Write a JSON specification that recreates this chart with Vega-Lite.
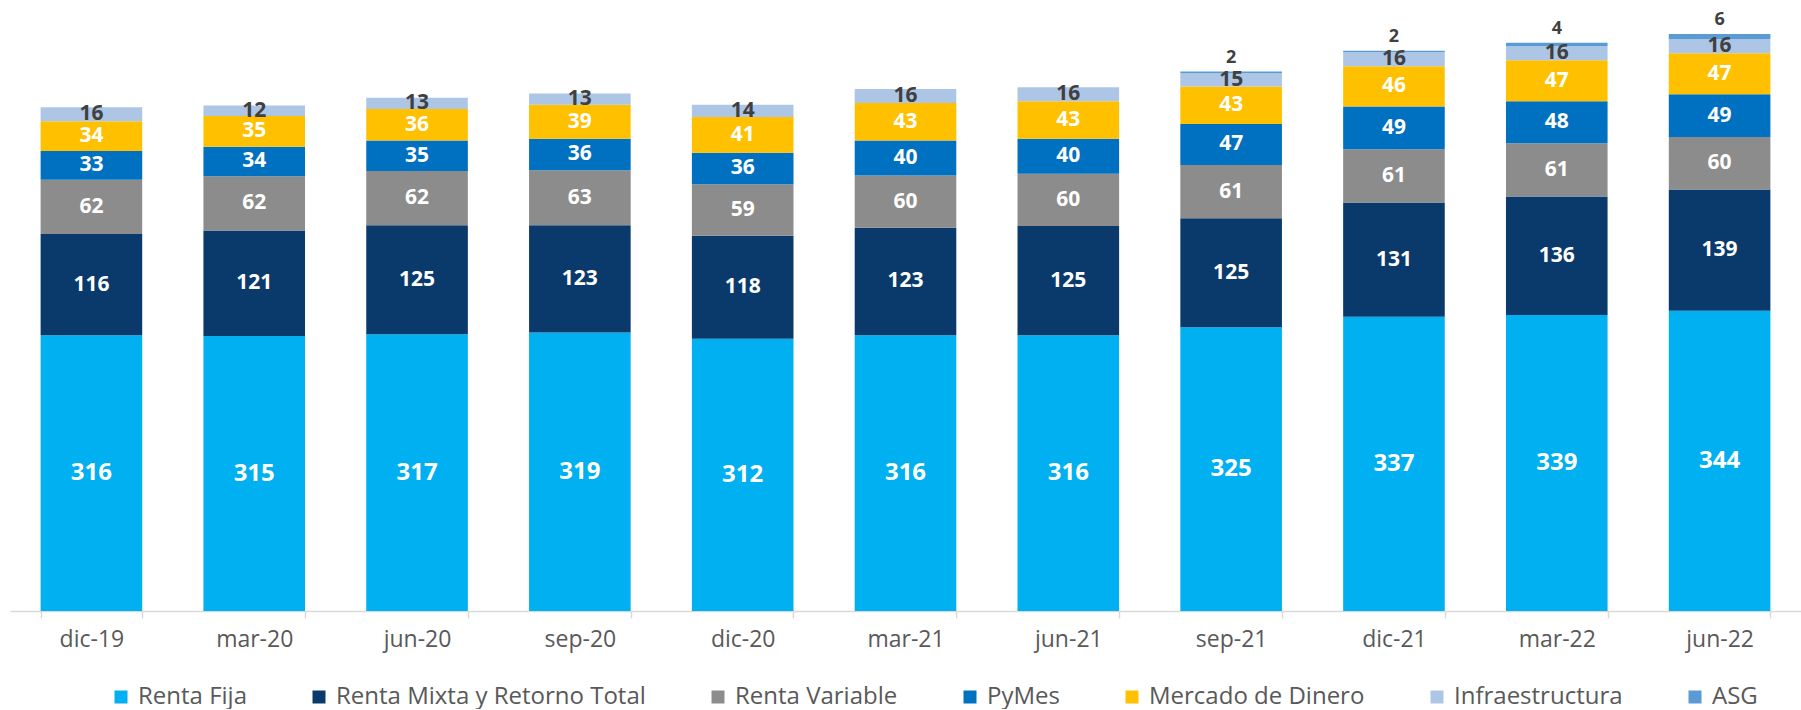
{
  "$schema": "https://vega.github.io/schema/vega-lite/v6.json",
  "width": 1791,
  "height": 611,
  "padding": {"left": 10, "right": 0, "top": 0, "bottom": 0},
  "background": "white",
  "config": {"view": {"stroke": null}},
  "data": {"values": [
    {"cat": "dic-19", "Renta Fija": 316, "Renta Mixta y Retorno Total": 116, "Renta Variable": 62, "PyMes": 33, "Mercado de Dinero": 34, "Infraestructura": 16, "ASG": null},
    {"cat": "mar-20", "Renta Fija": 315, "Renta Mixta y Retorno Total": 121, "Renta Variable": 62, "PyMes": 34, "Mercado de Dinero": 35, "Infraestructura": 12, "ASG": null},
    {"cat": "jun-20", "Renta Fija": 317, "Renta Mixta y Retorno Total": 125, "Renta Variable": 62, "PyMes": 35, "Mercado de Dinero": 36, "Infraestructura": 13, "ASG": null},
    {"cat": "sep-20", "Renta Fija": 319, "Renta Mixta y Retorno Total": 123, "Renta Variable": 63, "PyMes": 36, "Mercado de Dinero": 39, "Infraestructura": 13, "ASG": null},
    {"cat": "dic-20", "Renta Fija": 312, "Renta Mixta y Retorno Total": 118, "Renta Variable": 59, "PyMes": 36, "Mercado de Dinero": 41, "Infraestructura": 14, "ASG": null},
    {"cat": "mar-21", "Renta Fija": 316, "Renta Mixta y Retorno Total": 123, "Renta Variable": 60, "PyMes": 40, "Mercado de Dinero": 43, "Infraestructura": 16, "ASG": null},
    {"cat": "jun-21", "Renta Fija": 316, "Renta Mixta y Retorno Total": 125, "Renta Variable": 60, "PyMes": 40, "Mercado de Dinero": 43, "Infraestructura": 16, "ASG": null},
    {"cat": "sep-21", "Renta Fija": 325, "Renta Mixta y Retorno Total": 125, "Renta Variable": 61, "PyMes": 47, "Mercado de Dinero": 43, "Infraestructura": 15, "ASG": 2},
    {"cat": "dic-21", "Renta Fija": 337, "Renta Mixta y Retorno Total": 131, "Renta Variable": 61, "PyMes": 49, "Mercado de Dinero": 46, "Infraestructura": 16, "ASG": 2},
    {"cat": "mar-22", "Renta Fija": 339, "Renta Mixta y Retorno Total": 136, "Renta Variable": 61, "PyMes": 48, "Mercado de Dinero": 47, "Infraestructura": 16, "ASG": 4},
    {"cat": "jun-22", "Renta Fija": 344, "Renta Mixta y Retorno Total": 139, "Renta Variable": 60, "PyMes": 49, "Mercado de Dinero": 47, "Infraestructura": 16, "ASG": 6}
  ]},
  "transform": [
    {"fold": ["Renta Fija", "Renta Mixta y Retorno Total", "Renta Variable", "PyMes", "Mercado de Dinero", "Infraestructura", "ASG"], "as": ["serie", "value"]},
    {"filter": "isValid(datum.value)"},
    {"calculate": "indexof(['Renta Fija','Renta Mixta y Retorno Total','Renta Variable','PyMes','Mercado de Dinero','Infraestructura','ASG'], datum.serie)", "as": "k"},
    {"stack": "value", "groupby": ["cat"], "sort": [{"field": "k", "order": "ascending"}], "as": ["y0", "y1"]},
    {"calculate": "(datum.y0 + datum.y1) / 2", "as": "ym"}
  ],
  "encoding": {
    "x": {
      "field": "cat", "type": "nominal", "sort": null,
      "scale": {"paddingInner": 0.376, "paddingOuter": 0.188},
      "axis": {
        "title": null, "labelAngle": 0,
        "domainColor": "#d9d9d9", "domainWidth": 1.5,
        "tickColor": "#d9d9d9", "tickSize": 7, "tickWidth": 1.5, "tickBand": "extent",
        "labelFont": "Open Sans", "labelFontSize": 23, "labelColor": "#595959", "labelPadding": 10
      }
    }
  },
  "layer": [
    {
      "mark": {"type": "bar"},
      "encoding": {
        "y": {"field": "y1", "type": "quantitative", "scale": {"domain": [0, 700], "nice": false}, "axis": null},
        "y2": {"field": "y0"},
        "color": {
          "field": "serie", "type": "nominal",
          "scale": {
            "domain": ["Renta Fija", "Renta Mixta y Retorno Total", "Renta Variable", "PyMes", "Mercado de Dinero", "Infraestructura", "ASG"],
            "range": ["#00B0F0", "#0A3A6B", "#8C8C8C", "#0070C0", "#FFC000", "#ADC6E6", "#5B9BD5"]
          },
          "legend": {
            "title": null, "orient": "none", "direction": "horizontal", "columns": 7,
            "legendX": 99, "legendY": 685,
            "symbolType": "square", "symbolSize": 169, "symbolStrokeWidth": 0,
            "labelFont": "Open Sans", "labelFontSize": 24, "labelColor": "#595959",
            "labelOffset": 5, "columnPadding": 60, "labelLimit": 500
          }
        }
      }
    },
    {
      "transform": [{"filter": "datum.k >= 1 && datum.k <= 4"}],
      "mark": {"type": "text", "font": "Open Sans", "fontWeight": "bold", "fontSize": 21, "color": "white", "baseline": "middle"},
      "encoding": {
        "y": {"field": "ym", "type": "quantitative"},
        "text": {"field": "value", "type": "quantitative"}
      }
    },
    {
      "transform": [{"filter": "datum.k == 0"}],
      "mark": {"type": "text", "font": "Open Sans", "fontWeight": "bold", "fontSize": 24, "color": "white", "baseline": "middle"},
      "encoding": {
        "y": {"field": "ym", "type": "quantitative"},
        "text": {"field": "value", "type": "quantitative"}
      }
    },
    {
      "transform": [{"filter": "datum.k == 5"}],
      "mark": {"type": "text", "font": "Open Sans", "fontWeight": "bold", "fontSize": 21, "color": "#404040", "baseline": "middle"},
      "encoding": {
        "y": {"field": "ym", "type": "quantitative"},
        "text": {"field": "value", "type": "quantitative"}
      }
    },
    {
      "transform": [{"filter": "datum.k == 6"}],
      "mark": {"type": "text", "font": "Open Sans", "fontWeight": "bold", "fontSize": 18, "color": "#404040", "baseline": "middle", "dy": -14},
      "encoding": {
        "y": {"field": "y1", "type": "quantitative"},
        "text": {"field": "value", "type": "quantitative"}
      }
    }
  ]
}
